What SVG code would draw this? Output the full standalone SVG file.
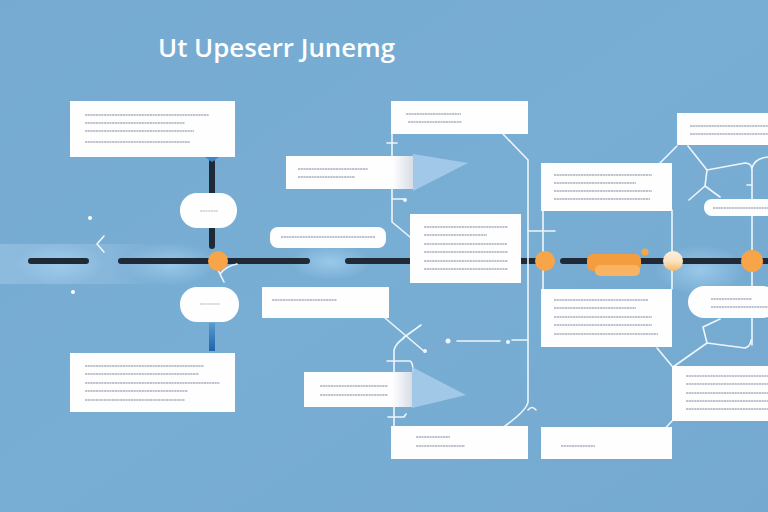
<svg xmlns="http://www.w3.org/2000/svg" width="768" height="512" viewBox="0 0 768 512">
<defs>
<linearGradient id="bg" x1="0" y1="0" x2="1" y2="1">
<stop offset="0" stop-color="#76aad1"/><stop offset="0.5" stop-color="#79aed4"/><stop offset="1" stop-color="#75a9d0"/>
</linearGradient>
<linearGradient id="band" x1="0" y1="0" x2="1" y2="0">
<stop offset="0" stop-color="#9cc5e5" stop-opacity="0.6"/><stop offset="0.7" stop-color="#9cc5e5" stop-opacity="0.4"/><stop offset="1" stop-color="#9cc5e5" stop-opacity="0"/>
</linearGradient>
<linearGradient id="fade" x1="0" y1="0" x2="1" y2="0">
<stop offset="0" stop-color="#ffffff"/><stop offset="1" stop-color="#d7dde6"/>
</linearGradient>
<linearGradient id="cream" x1="0" y1="0" x2="0" y2="1">
<stop offset="0" stop-color="#fbeedd"/><stop offset="0.5" stop-color="#fbe3c3"/><stop offset="1" stop-color="#f8b866"/>
</linearGradient>
<linearGradient id="bluebar" x1="0" y1="0" x2="0" y2="1">
<stop offset="0" stop-color="#5a9ad0"/><stop offset="1" stop-color="#1f63ab"/>
</linearGradient>
<radialGradient id="glow">
<stop offset="0" stop-color="#a8d4f3" stop-opacity="0.7"/><stop offset="1" stop-color="#a8d4f3" stop-opacity="0"/>
</radialGradient>
</defs>
<style>
.box{fill:#fefefe}
.txt{stroke:#a9b0c0;stroke-width:1.7;stroke-dasharray:2.2 0.5;fill:none}
.tl{stroke:#1f2a36;stroke-width:6;stroke-linecap:round;fill:none}
.con{stroke:#eef5fb;stroke-width:1.6;fill:none;stroke-linecap:round;stroke-linejoin:round}
.org{fill:#f7a548}
.tri{fill:#a9cdec;opacity:0.85}
.title{font-family:"Open Sans","Liberation Sans",sans-serif;font-size:25px;fill:#ffffff;font-weight:600}
</style>
<rect width="768" height="512" fill="url(#bg)"/>
<rect x="0" y="244" width="160" height="40" fill="url(#band)"/>
<ellipse cx="60" cy="264" rx="45" ry="22" fill="url(#glow)"/>
<ellipse cx="170" cy="264" rx="45" ry="22" fill="url(#glow)"/>
<ellipse cx="330" cy="262" rx="40" ry="18" fill="url(#glow)"/>
<ellipse cx="700" cy="270" rx="45" ry="25" fill="url(#glow)"/>

<text class="title" x="158" y="57" textLength="237" lengthAdjust="spacingAndGlyphs">Ut Upeserr Junemg</text>

<g id="connectors">
<path class="tl" d="M31 261H86M121 261H307M348 261H412M520 261H540M563 261H590M640 261H666M681 261H745M758 261H768"/>
<path class="tl" d="M212 162V195M212 229V246" stroke-width="5"/>
<rect x="209" y="323" width="6" height="28" fill="url(#bluebar)"/>
<path d="M205 157l7 5 7-5z" fill="#3d86cf"/>
<path class="con" d="M392 134V222L410 237"/>
<path class="con" d="M387 143H397M392 199H404"/>
<circle cx="405" cy="200" r="2" fill="#eef5fb"/>
<path class="con" d="M503 134L528 160V402Q527 410 505 426"/>
<path class="con" d="M528 231H555"/>
<path class="con" d="M528 340H512M457 341H500"/>
<circle cx="448" cy="341" r="2.5" fill="#eef5fb"/>
<circle cx="508" cy="342" r="2" fill="#eef5fb"/>
<path class="con" d="M385 318L425 352M403 338L421 325M394 428V350Q396 343 404 338"/>
<circle cx="425" cy="351" r="2" fill="#eef5fb"/>
<path class="con" d="M387 361H410Q413 362 413 372M388 417H404L406 414"/>
<path class="con" d="M528 410Q532 405 536 410"/>
<path class="con" d="M543 210V289M672 210V289M752 170V345"/>
<path class="con" d="M677 146L660 163M688 146L707 170L745 163Q752 163 752 170M752 168Q755 158 768 157M707 170L705 186L689 200M705 186L720 197M747 185H752"/>
<path class="con" d="M720 319L703 327L707 343L745 348Q751 346 751 340M707 343L673 367M657 348L672 366M672 421L657 437"/>
<path class="con" d="M218 270Q222 278 224 282M220 274Q226 266 237 264"/>
<path class="con" d="M104 236L97 244L104 252"/>
<circle cx="90" cy="218" r="2" fill="#ffffff"/>
<circle cx="73" cy="292" r="2" fill="#ffffff"/>
</g>

<g id="node-top-left">
<rect class="box" x="70" y="101" width="165" height="56"/>
<path class="txt" d="M85 115H209M85 123H185M85 131H194M85 142H190"/>
</g>
<g id="pill-left-top">
<rect class="box" x="180" y="193" width="57" height="35" rx="17"/>
<path class="txt" d="M200 211H218" opacity="0.6"/>
</g>
<g id="node-orange-left"><circle class="org" cx="218" cy="261" r="10"/></g>
<g id="pill-left-bottom">
<rect class="box" x="180" y="287" width="59" height="35" rx="17"/>
<path class="txt" d="M200 304H220" opacity="0.6"/>
</g>
<g id="node-bottom-left">
<rect class="box" x="70" y="353" width="165" height="59"/>
<path class="txt" d="M85 366H204M85 374H199M85 383H220M85 391H188M85 400H185"/>
</g>

<g id="node-mid-arrow-top">
<rect class="box" x="286" y="156" width="106" height="33"/>
<rect x="392" y="156" width="21" height="33" fill="url(#fade)"/>
<path class="tri" d="M413 154L468 163L413 191z"/>
<path class="txt" d="M298 169H368M298 177H355"/>
</g>
<g id="node-mid-top">
<rect class="box" x="391" y="101" width="137" height="33"/>
<path class="txt" d="M406 114H461M408 122H462"/>
</g>
<g id="pill-mid">
<rect class="box" x="270" y="227" width="116" height="21" rx="8"/>
<path class="txt" d="M281 237H375"/>
</g>
<g id="node-mid-center">
<rect class="box" x="410" y="214" width="111" height="69"/>
<path class="txt" d="M424 227H508M424 235H487M424 244H507M424 252H508M424 261H508M424 269H508"/>
</g>
<g id="node-mid-left-low">
<rect class="box" x="262" y="287" width="127" height="31"/>
<path class="txt" d="M272 300H337"/>
</g>
<g id="node-mid-arrow-bottom">
<rect class="box" x="304" y="372" width="88" height="35"/>
<rect x="392" y="372" width="20" height="35" fill="url(#fade)"/>
<path class="tri" d="M412 367L466 395L412 408z"/>
<path class="txt" d="M320 386H388M320 395H388"/>
</g>
<g id="node-mid-bottom">
<rect class="box" x="391" y="426" width="137" height="33"/>
<path class="txt" d="M416 437H450M416 446H465"/>
</g>

<g id="node-orange-mid"><circle class="org" cx="545" cy="261" r="10"/></g>
<g id="node-orange-bar">
<rect x="587" y="254" width="54" height="17" rx="6" fill="#f49d3e"/>
<rect x="595" y="265" width="45" height="11" rx="5" fill="#f8b463"/>
<circle cx="645" cy="252" r="3.5" fill="#f7a548"/>
</g>
<g id="node-cream"><circle cx="673" cy="261" r="10" fill="url(#cream)"/></g>
<g id="node-orange-right"><circle class="org" cx="752" cy="261" r="11"/></g>

<g id="node-right-col-top">
<rect class="box" x="541" y="163" width="131" height="48"/>
<path class="txt" d="M554 175H652M554 183H636M554 191H652M554 199H650"/>
</g>
<g id="node-right-col-mid">
<rect class="box" x="541" y="289" width="131" height="58"/>
<path class="txt" d="M554 300H648M554 308H636M554 317H652M554 325H652M554 334H658"/>
</g>
<g id="node-right-col-bottom">
<rect class="box" x="541" y="427" width="131" height="32"/>
<path class="txt" d="M561 446H595"/>
</g>

<g id="node-far-right-top">
<rect class="box" x="677" y="113" width="91" height="32"/>
<path class="txt" d="M690 126H768M690 134H768"/>
</g>
<g id="pill-far-right-top">
<rect class="box" x="704" y="199" width="72" height="17" rx="8"/>
<path class="txt" d="M713 208H768"/>
</g>
<g id="pill-far-right-bottom">
<rect class="box" x="688" y="286" width="90" height="32" rx="16"/>
<path class="txt" d="M711 299H752M711 307H768"/>
</g>
<g id="node-far-right-bottom">
<rect class="box" x="672" y="366" width="96" height="55"/>
<path class="txt" d="M686 376H768M686 384H768M686 393H768M686 401H768M686 409H768"/>
</g>
</svg>
